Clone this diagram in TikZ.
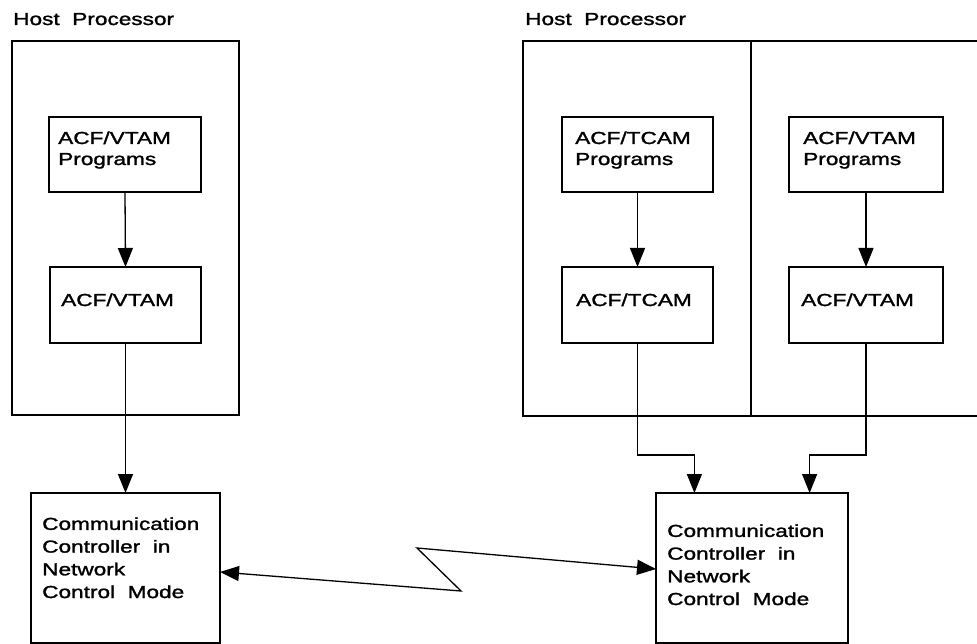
\documentclass[tikz,border=0pt]{standalone}
\usepackage{fontspec}
\setmainfont{Liberation Sans}[FakeStretch=1.3, WordSpace=2, FakeBold=1.6]
\usetikzlibrary{arrows.meta,calc}
\begin{document}
\begin{tikzpicture}[x=1pt,y=-1pt,
  hostline/.style={line width=2.2pt},
  box/.style={draw, line width=1.6pt, inner sep=0pt, outer sep=0pt, anchor=north west},
  hostbox/.style={box, line width=2.2pt},
  txt/.style={inner sep=0pt, anchor=base west, align=left, font=\fontsize{17.4}{21}\selectfont},
  cctxt/.style={txt, font=\fontsize{17.4}{22.7}\selectfont},
  conn/.style={line width=1.3pt, -{Triangle[length=19pt,width=15pt]}},
  dconn/.style={line width=1.3pt, {Triangle[length=19pt,width=15pt]}-{Triangle[length=19pt,width=15pt]}},
]
\useasboundingbox (0,0) rectangle (977,644);
% titles
\node[txt] (hp1) at (13,25) {Host Processor};
\node[txt] (hp2) at (525,25) {Host Processor};
% host boxes
\node[hostbox, minimum width=227pt, minimum height=374pt] (H1) at (12,41) {};
\draw[hostline] (977,41) -- (523,41) -- (523,416) -- (977,416);
\draw[line width=1.4pt] (751,41) -- (751,416);
% boxes
\node[box, minimum width=152pt, minimum height=75pt] (LP) at (49,117) {};
\node[box, minimum width=151pt, minimum height=76pt] (LV) at (50,267) {};
\node[box, minimum width=189pt, minimum height=150pt] (LC) at (31,493) {};
\node[box, minimum width=151pt, minimum height=75pt] (TP) at (562,117) {};
\node[box, minimum width=154pt, minimum height=75pt] (VP) at (789,117) {};
\node[box, minimum width=151pt, minimum height=76pt] (TC) at (562,267) {};
\node[box, minimum width=154pt, minimum height=76pt] (VR) at (789,267) {};
\node[box, minimum width=192pt, minimum height=150pt] (RC) at (656,493) {};
% texts (anchor = baseline of the last line)
\node[txt] (tLP) at (58,165) {ACF/VTAM\\Programs};
\node[txt] (tLV) at (61,306) {ACF/VTAM};
\node[cctxt] (tLC) at (42,598) {Communication\\Controller in\\Network\\Control Mode};
\node[txt] (tTP) at (575,165) {ACF/TCAM\\Programs};
\node[txt] (tVP) at (803,165) {ACF/VTAM\\Programs};
\node[txt] (tTC) at (576,306) {ACF/TCAM};
\node[txt] (tVR) at (801,306) {ACF/VTAM};
\node[cctxt] (tRC) at (667,605) {Communication\\Controller in\\Network\\Control Mode};
% connectors
\draw[conn] (LP.south) -- (LV.north);
\draw[conn] (LV.south) -- (LC.north);
\draw[conn] (TP.south) -- (TC.north);
\draw[conn] (VP.south) -- (VR.north);
\coordinate (ra) at ($(RC.north)!0.6!(RC.north west)$);
\coordinate (rb) at ($(RC.north)!0.6!(RC.north east)$);
\draw[conn] (TC.south) -- ++(0,112) -| (ra);
\draw[conn] (VR.south) -- ++(0,112) -| (rb);
% link
\coordinate (l1) at ($(LC.east)+(0,4)$);
\coordinate (z1) at (461,591);
\coordinate (z2) at (417,548);
\coordinate (r1) at ($(RC.west)+(0,1)$);
\draw[dconn] (l1) -- (z1) -- (z2) -- (r1);
\end{tikzpicture}
\end{document}
